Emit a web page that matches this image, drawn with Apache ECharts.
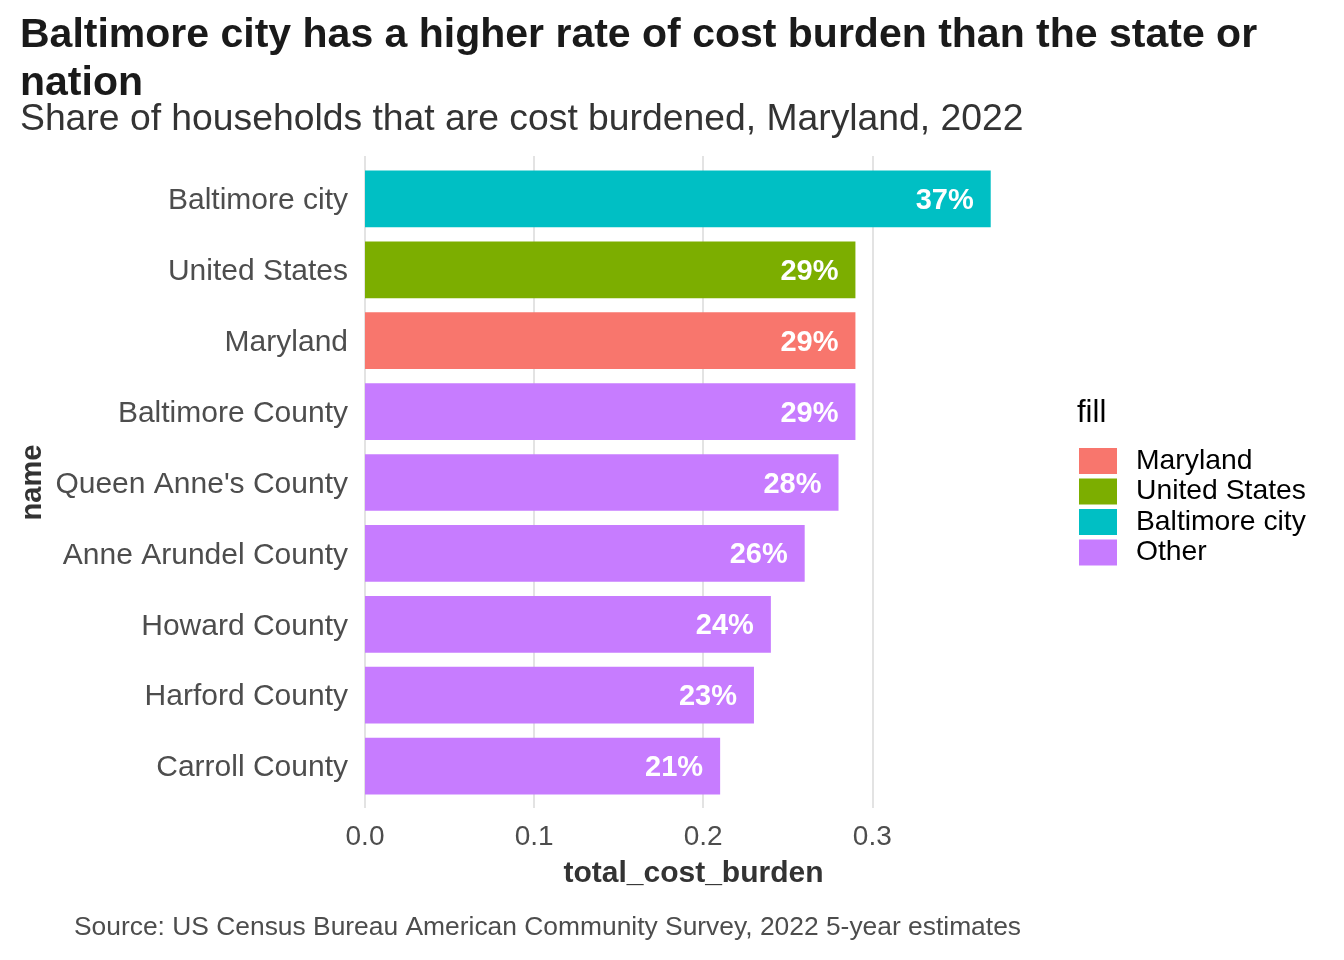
<!DOCTYPE html>
<html>
<head>
<meta charset="utf-8">
<script src="https://cdn.jsdelivr.net/npm/echarts@6/dist/echarts.min.js"></script>
<style>
html,body{margin:0;padding:0;background:#fff;}
#chart{width:1344px;height:960px;}
</style>
</head>
<body>
<div id="chart"></div>
<script>
// Data (top to bottom)
var categories = ["Baltimore city", "United States", "Maryland", "Baltimore County", "Queen Anne's County", "Anne Arundel County", "Howard County", "Harford County", "Carroll County"];
var values = [0.37, 0.29, 0.29, 0.29, 0.28, 0.26, 0.24, 0.23, 0.21];
var fillGroup = ["Baltimore city", "United States", "Maryland", "Other", "Other", "Other", "Other", "Other", "Other"];
var legendOrder = ["Maryland", "United States", "Baltimore city", "Other"];
var groupColors = ["#F8766D", "#7CAE00", "#00BFC4", "#C77CFF"];
var xTicks = [0, 0.1, 0.2, 0.3];

var FONT = "'Liberation Sans', Arial, Helvetica, sans-serif";
var xMax = 0.3885;

var series = legendOrder.map(function (g, gi) {
  return {
    name: g,
    type: 'bar',
    stack: 'all',
    barWidth: '80%',
    xAxisIndex: 0,
    yAxisIndex: 0,
    itemStyle: { color: groupColors[gi] },
    label: {
      show: true,
      position: 'insideRight',
      distance: 17,
      offset: [0, 2],
      color: '#ffffff',
      fontFamily: FONT,
      fontWeight: 'bold',
      fontSize: 29,
      formatter: function (p) { return Math.round(p.value * 100) + '%'; }
    },
    data: values.map(function (v, i) { return fillGroup[i] === g ? v : '-'; })
  };
});

var chart = echarts.init(document.getElementById('chart'), null, { renderer: 'canvas' });
chart.setOption({
  backgroundColor: '#ffffff',
  animation: false,
  title: [
    {
      text: 'Baltimore city has a higher rate of cost burden than the state or\nnation',
      left: 20, top: 11, padding: 0,
      textStyle: { fontFamily: FONT, fontWeight: 'bold', fontSize: 41, lineHeight: 48.5, color: '#1a1a1a' }
    },
    {
      text: 'Share of households that are cost burdened, Maryland, 2022',
      left: 20, top: 101, padding: 0,
      textStyle: { fontFamily: FONT, fontWeight: 'normal', fontSize: 37.3, lineHeight: 37.3, color: '#333333' }
    },
    {
      text: 'fill',
      left: 1077, top: 398, padding: 0,
      textStyle: { fontFamily: FONT, fontWeight: 'normal', fontSize: 31, lineHeight: 31, color: '#000000' }
    },
    {
      text: 'Source: US Census Bureau American Community Survey, 2022 5-year estimates',
      right: 323, top: 915, padding: 0,
      textStyle: { fontFamily: FONT, fontWeight: 'normal', fontSize: 26.4, lineHeight: 26.4, color: '#4d4d4d' }
    }
  ],
  legend: {
    data: legendOrder,
    orient: 'vertical',
    left: 1079, top: 447, padding: 0,
    itemWidth: 38, itemHeight: 26, itemGap: 2.5,
    icon: 'rect',
    selectedMode: false,
    textStyle: { fontFamily: FONT, fontSize: 28.3, lineHeight: 26, height: 26, color: '#000000', padding: [0, 0, 0, 14] }
  },
  grid: [
    { left: 365, top: 163.5, width: 657, height: 638, containLabel: false },
    { left: 365, top: 156, width: 657, height: 652, containLabel: false }
  ],
  xAxis: [
    {
      type: 'value', gridIndex: 0, min: 0, max: xMax, interval: 0.1,
      axisLine: { show: false }, axisTick: { show: false },
      splitLine: { show: false },
      axisLabel: {
        margin: 22, fontFamily: FONT, fontSize: 28, color: '#4d4d4d', showMaxLabel: false,
        formatter: function (v) { return xTicks.indexOf(Math.round(v * 10) / 10) >= 0 && Math.abs(v * 10 - Math.round(v * 10)) < 1e-6 ? v.toFixed(1) : ''; }
      },
      name: 'total_cost_burden', nameLocation: 'middle', nameGap: 57,
      nameTextStyle: { fontFamily: FONT, fontWeight: 'bold', fontSize: 30, color: '#333333' }
    },
    {
      type: 'value', gridIndex: 1, min: 0, max: xMax, interval: 0.1,
      axisLine: { show: false }, axisTick: { show: false }, axisLabel: { show: false },
      splitLine: { show: true, showMaxLine: false, lineStyle: { color: '#e3e3e3', width: 2 } }
    }
  ],
  yAxis: [
    {
      type: 'category', gridIndex: 0, data: categories, inverse: true,
      axisLine: { show: false }, axisTick: { show: false }, splitLine: { show: false },
      axisLabel: {
        margin: 17, color: '#4d4d4d',
        formatter: function (v) { return '{a|' + v + '}'; },
        rich: { a: { fontFamily: FONT, fontSize: 30, lineHeight: 30, color: '#4d4d4d', padding: [4, 0, 0, 0] } }
      },
      name: 'name', nameLocation: 'middle', nameGap: 318, nameRotate: 90,
      nameTextStyle: { fontFamily: FONT, fontWeight: 'bold', fontSize: 29, color: '#333333' }
    },
    {
      type: 'value', gridIndex: 1, min: 0, max: 1, show: false
    }
  ],
  series: series
});
</script>
</body>
</html>
